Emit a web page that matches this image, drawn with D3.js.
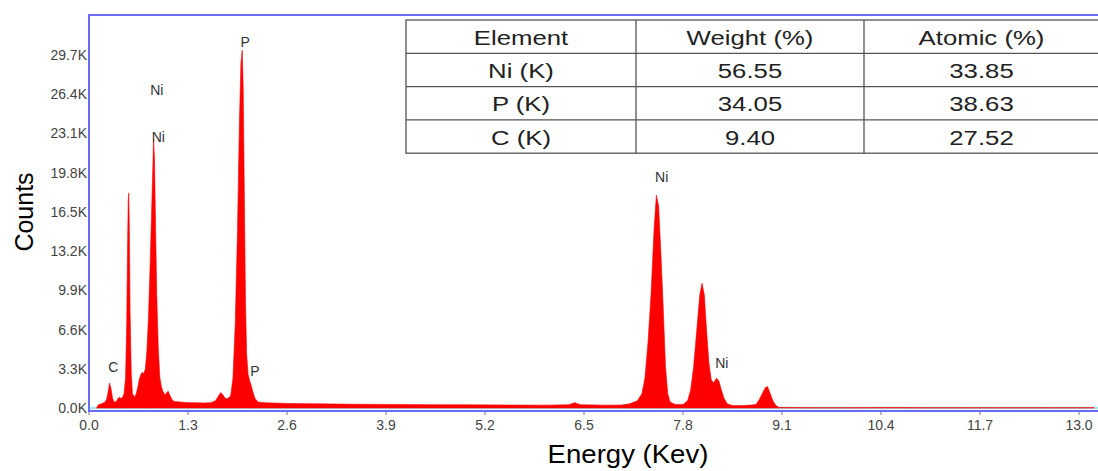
<!DOCTYPE html>
<html lang="en">
<head>
<meta charset="utf-8">
<title>EDS spectrum</title>
<script src="https://d3js.org/d3.v7.min.js"></script>
<style>
body { margin: 0; background: #fff; }
svg { display: block; font-family: "Liberation Sans", Arial, sans-serif; }
.tick-label { fill: #444; font-size: 14px; }
.peak-label { fill: #333; font-size: 14px; }
.axis-title { fill: #000; font-size: 25px; }
.cell { fill: #222; font-size: 19.5px; }
</style>
</head>
<body>
<div id="container"></div>
<script>
// spectrum, energy in keV, counts in thousands
var energy = [
  0.10, 0.12, 0.16, 0.20, 0.23, 0.25, 0.27, 0.29, 0.31, 0.33, 0.36, 0.38, 0.40, 0.42, 0.44,
  0.46, 0.48, 0.495, 0.505, 0.515, 0.522, 0.53, 0.54, 0.555, 0.57,
  0.60, 0.62, 0.64, 0.66, 0.68, 0.70, 0.72, 0.74, 0.76, 0.78, 0.80, 0.82, 0.835, 0.848, 0.86, 0.875, 0.89, 0.91, 0.93, 0.95, 0.97, 1.00, 1.02, 1.04, 1.06, 1.09,
  1.12, 1.2, 1.3, 1.4, 1.5, 1.6, 1.66, 1.70, 1.73, 1.76, 1.79, 1.82,
  1.86, 1.89, 1.92, 1.95, 1.975, 1.995, 2.012, 2.025, 2.04, 2.055, 2.07, 2.09, 2.11, 2.13, 2.15, 2.18, 2.22,
  2.3, 2.6, 3.0, 3.5, 4.0, 4.5, 5.0, 5.5, 6.0, 6.3, 6.38, 6.45, 6.8, 7.0,
  7.1, 7.2, 7.26, 7.3, 7.34, 7.38, 7.42, 7.45, 7.48, 7.51, 7.54, 7.57, 7.60, 7.63, 7.7,
  7.8, 7.86, 7.9, 7.94, 7.98, 8.02, 8.05, 8.08, 8.11, 8.14, 8.17, 8.20, 8.24, 8.27, 8.30, 8.34, 8.38, 8.45, 8.6, 8.7,
  8.76, 8.80, 8.84, 8.88, 8.91, 8.94, 8.98, 9.02, 9.06,
  9.5, 10.0, 10.5, 11.0, 11.5, 12.0, 12.5, 13.0, 13.2
];
var counts = [
  0, 0.25, 0.35, 0.45, 0.7, 1.3, 2.1, 1.6, 0.8, 0.5, 0.55, 0.8, 0.9, 0.8, 0.9,
  1.2, 2.5, 7.0, 13.0, 17.5, 18.1, 15.0, 8.0, 3.0, 1.2,
  0.9, 1.2, 1.7, 2.4, 2.8, 3.0, 2.9, 3.3, 4.8, 7.5, 11.5, 16.0, 19.5, 22.6, 21.0, 15.0, 9.5, 5.0, 2.6, 1.8, 1.4, 1.1, 1.3, 1.4, 1.1, 0.7,
  0.55, 0.5, 0.45, 0.45, 0.42, 0.45, 0.6, 1.0, 1.3, 1.1, 0.8, 0.8,
  1.0, 2.5, 7.0, 15.0, 24.0, 29.0, 30.1, 27.0, 18.0, 9.0, 4.5, 2.8, 2.3, 1.9, 1.4, 0.8, 0.5,
  0.45, 0.38, 0.35, 0.32, 0.3, 0.28, 0.27, 0.25, 0.24, 0.28, 0.45, 0.28, 0.24, 0.25,
  0.35, 0.6, 1.2, 2.5, 5.5, 9.5, 15.0, 17.9, 17.0, 13.0, 8.5, 3.5, 1.2, 0.5, 0.3,
  0.3, 0.6, 1.5, 3.5, 6.5, 9.5, 10.5, 9.5, 6.5, 3.8, 2.4, 2.1, 2.5, 2.3, 1.6, 0.8, 0.35, 0.2, 0.2, 0.25,
  0.3, 0.7, 1.2, 1.7, 1.8, 1.3, 0.6, 0.2, 0.05,
  0.03, 0.03, 0.04, 0.03, 0.03, 0.03, 0.03, 0.03, 0.03
];

var xTicks = [0.0, 1.3, 2.6, 3.9, 5.2, 6.5, 7.8, 9.1, 10.4, 11.7, 13.0];
var yTicks = [0.0, 3.3, 6.6, 9.9, 13.2, 16.5, 19.8, 23.1, 26.4, 29.7];

// peak labels: text, energy, counts (K) where the label sits
var peakNames = ["C", "Ni", "Ni", "P", "P", "Ni", "Ni"];
var peakEnergy = [0.32, 0.89, 0.91, 2.05, 2.18, 7.52, 8.31];
var peakCounts = [3.0, 26.3, 22.4, 30.4, 2.7, 19.0, 3.4];

// quantification table
var tableHeader = ["Element", "Weight (%)", "Atomic (%)"];
var elements = ["Ni (K)", "P (K)", "C (K)"];
var weightPct = ["56.55", "34.05", "9.40"];
var atomicPct = ["33.85", "38.63", "27.52"];

var w = 1098, h = 471;
var svg = d3.select("#container").append("svg")
  .attr("width", w).attr("height", h);

var x = d3.scaleLinear().domain([0, 13]).range([89, 1079]);
var y = d3.scaleLinear().domain([0, 29.7]).range([408, 55]);

var spectrum = energy.map(function(e, i) { return { e: e, c: counts[i] }; });

// cyan baseline under the spectrum
svg.append("line")
  .attr("x1", 89).attr("x2", w)
  .attr("y1", y(0)).attr("y2", y(0))
  .attr("stroke", "#a6e8ee").attr("stroke-width", 2.5);

var area = d3.area()
  .x(function(d) { return x(d.e); })
  .y0(y(0))
  .y1(function(d) { return y(d.c); });

svg.append("path")
  .datum(spectrum)
  .attr("d", area)
  .attr("fill", "#ff0000")
  .attr("stroke", "#ff0000")
  .attr("stroke-width", 0.6);

// frame
var frame = svg.append("g").attr("stroke", "#6b6bf8").attr("stroke-width", 2);
frame.append("line").attr("x1", 89).attr("x2", 89).attr("y1", 15).attr("y2", 411);
frame.append("line").attr("x1", 88).attr("x2", w).attr("y1", 411).attr("y2", 411);
frame.append("line").attr("x1", 88).attr("x2", w).attr("y1", 15).attr("y2", 15);

// x ticks
svg.append("g").selectAll("line").data(xTicks).enter().append("line")
  .attr("x1", function(d) { return x(d); }).attr("x2", function(d) { return x(d); })
  .attr("y1", 412).attr("y2", 415)
  .attr("stroke", "#777").attr("stroke-width", 1);

svg.append("g").selectAll("text").data(xTicks).enter().append("text")
  .attr("class", "tick-label")
  .attr("x", function(d) { return x(d); })
  .attr("y", 430)
  .attr("text-anchor", "middle")
  .text(function(d) { return d.toFixed(1); });

// y ticks
svg.append("g").selectAll("text").data(yTicks).enter().append("text")
  .attr("class", "tick-label")
  .attr("x", 87)
  .attr("y", function(d) { return y(d) + 5; })
  .attr("text-anchor", "end")
  .text(function(d) { return d.toFixed(1) + "K"; });

// axis titles
svg.append("text")
  .attr("class", "axis-title")
  .attr("transform", "translate(33,212) rotate(-90)")
  .attr("text-anchor", "middle")
  .text("Counts");

svg.append("text")
  .attr("class", "axis-title")
  .attr("transform", "translate(628,463) scale(1.06,1)")
  .attr("text-anchor", "middle")
  .style("font-size", "26px")
  .text("Energy (Kev)");

// peak labels
svg.append("g").selectAll("text").data(peakNames).enter().append("text")
  .attr("class", "peak-label")
  .attr("x", function(d, i) { return x(peakEnergy[i]); })
  .attr("y", function(d, i) { return y(peakCounts[i]); })
  .attr("text-anchor", "middle")
  .text(function(d) { return d; });

// table inset
var tx = 406, ty = 20, rowH = 33.3;
var colX = [406, 636, 864, 1099];
var rows = [tableHeader].concat(elements.map(function(el, i) {
  return [el, weightPct[i], atomicPct[i]];
}));
var tb = svg.append("g");
tb.append("rect")
  .attr("x", tx).attr("y", ty)
  .attr("width", colX[3] - tx).attr("height", rowH * rows.length)
  .attr("fill", "#fff").attr("stroke", "#555").attr("stroke-width", 1.3);
for (var r = 1; r < rows.length; r++) {
  tb.append("line").attr("x1", tx).attr("x2", colX[3])
    .attr("y1", ty + r * rowH).attr("y2", ty + r * rowH)
    .attr("stroke", "#555").attr("stroke-width", 1.3);
}
[1, 2].forEach(function(c) {
  tb.append("line").attr("x1", colX[c]).attr("x2", colX[c])
    .attr("y1", ty).attr("y2", ty + rowH * rows.length)
    .attr("stroke", "#555").attr("stroke-width", 1.3);
});
rows.forEach(function(row, r) {
  row.forEach(function(txt, c) {
    var cx = (colX[c] + colX[c + 1]) / 2;
    var cy = ty + r * rowH + rowH / 2 + 8;
    tb.append("text")
      .attr("class", "cell")
      .attr("transform", "translate(" + cx + "," + cy + ") scale(1.32,1)")
      .attr("text-anchor", "middle")
      .text(txt);
  });
});
</script>
</body>
</html>
